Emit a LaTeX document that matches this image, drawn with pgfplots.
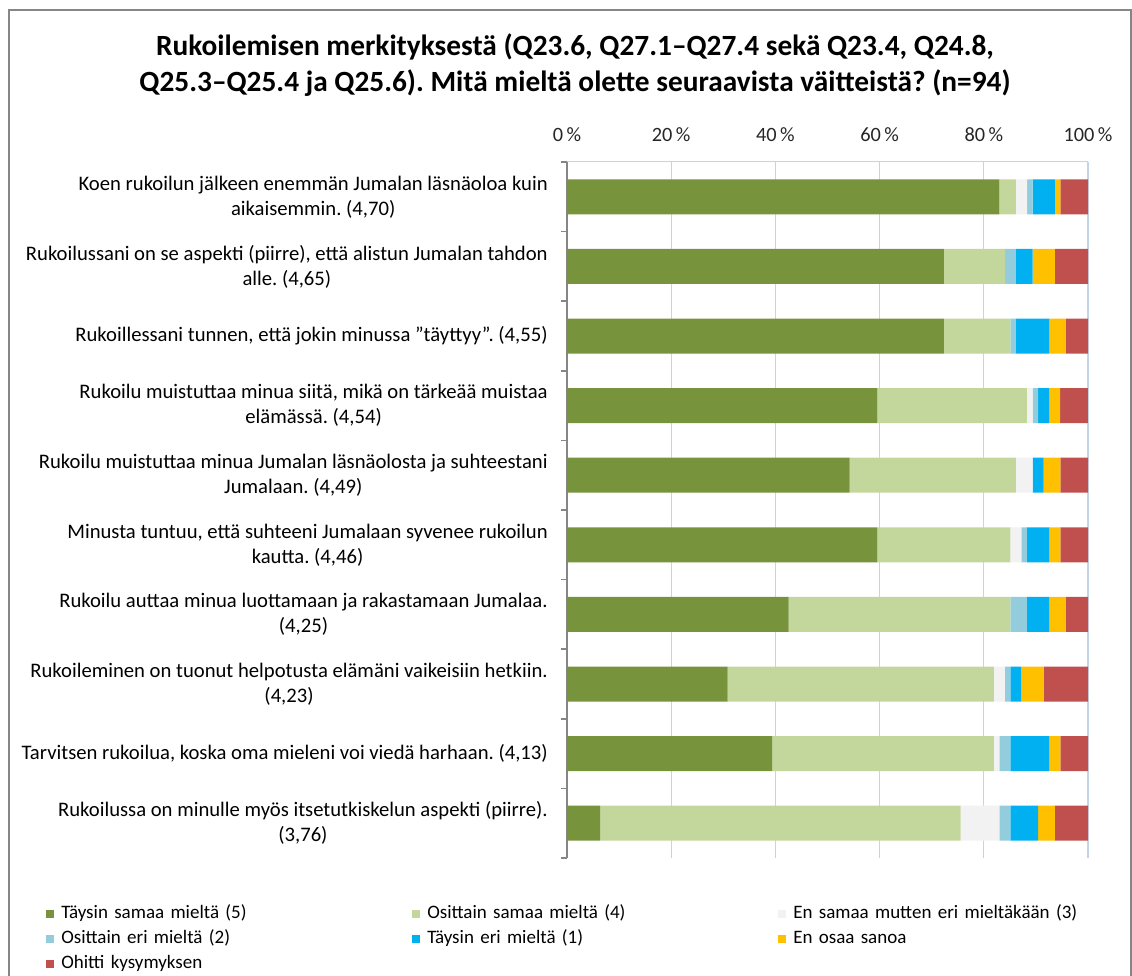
\documentclass[border=0pt]{standalone}
\usepackage{fontspec}
\setmainfont{Carlito}
\usepackage{pgfplots}
\pgfplotsset{compat=1.18}
\frenchspacing

\definecolor{c5}{HTML}{77933C}
\definecolor{c4}{HTML}{C3D69B}
\definecolor{c3}{HTML}{F2F2F2}
\definecolor{c2}{HTML}{93CDDD}
\definecolor{c1}{HTML}{00B0F0}
\definecolor{ceos}{HTML}{FFC000}
\definecolor{cskip}{HTML}{C0504D}
\definecolor{gridcol}{HTML}{C4D5EA}
\definecolor{framecol}{HTML}{868686}

\newcommand{\lblfont}{\fontsize{15.5}{18.75}\selectfont}
\newcommand{\legfont}{\fontsize{14.25}{18.75}\selectfont}

\begin{document}
\begin{tikzpicture}[x=0.75pt,y=0.75pt]
\useasboundingbox (0,0) rectangle (1132,975);
\draw[framecol, line width=1.5pt] (9,-10) -- (9,965) -- (1131,965) -- (1131,-10);
\node[font=\fontsize{22}{27}\selectfont\bfseries, align=center] at (575,910)
  {Rukoilemisen merkityksestä (Q23.6, Q27.1–Q27.4 sekä Q23.4, Q24.8,\\
   Q25.3–Q25.4 ja Q25.6). Mitä mieltä olette seuraavista väitteistä? (n=94)};
\begin{axis}[
    at={(425.25pt,87.75pt)}, anchor=south west,
    scale only axis,
    width=390.75pt, height=522pt,
    xbar stacked,
    bar width=26.25pt,
    xmin=0, xmax=100,
    ymin=-0.5, ymax=9.5,
    y dir=reverse,
    axis x line*=top,
    axis y line*=left,
    x axis line style={draw=gridcol, line width=0.75pt, -},
    y axis line style={draw=framecol, line width=1.5pt, -},
    xtick={0,20,...,100},
    xticklabels={0\,\%,20\,\%,40\,\%,60\,\%,80\,\%,100\,\%},
    xtick style={draw=none},
    xticklabel style={font=\fontsize{15.25}{18}\selectfont, text=black!85, inner sep=0pt, yshift=15pt},
    xmajorgrids=true,
    grid style={gridcol, line width=1pt},
    ytick={0,...,9},
    minor ytick={-0.5,0.5,...,9.5},
    tick align=outside,
    major tick length=0pt,
    minor tick length=4.5pt,
    ytick style={draw=framecol, line width=1.2pt},
    yticklabel style={font=\lblfont, align=center, inner sep=0pt, xshift=-14.25pt},
    yticklabels={
      {Koen rukoilun jälkeen enemmän Jumalan läsnäoloa kuin\\aikaisemmin. (4,70)},
      {Rukoilussani on se aspekti (piirre), että alistun Jumalan tahdon\\alle. (4,65)},
      {Rukoillessani tunnen, että jokin minussa ”täyttyy”. (4,55)},
      {Rukoilu muistuttaa minua siitä, mikä on tärkeää muistaa\\elämässä. (4,54)},
      {Rukoilu muistuttaa minua Jumalan läsnäolosta ja suhteestani\\Jumalaan. (4,49)},
      {Minusta tuntuu, että suhteeni Jumalaan syvenee rukoilun\\kautta. (4,46)},
      {Rukoilu auttaa minua luottamaan ja rakastamaan Jumalaa.\\(4,25)},
      {Rukoileminen on tuonut helpotusta elämäni vaikeisiin hetkiin.\\(4,23)},
      {Tarvitsen rukoilua, koska oma mieleni voi viedä harhaan. (4,13)},
      {Rukoilussa on minulle myös itsetutkiskelun aspekti (piirre).\\(3,76)}
    },
    legend columns=3,
    legend cell align=left,
    legend image code/.code={\fill[#1] (0pt,-3pt) rectangle (6pt,3pt);},
    legend style={
      at={(axis description cs:-1.0,-0.067)}, anchor=north west,
      draw=none, fill=none, inner sep=0pt,
      font=\legfont,
      row sep=5.75pt,
      /tikz/every odd column/.append style={column sep=5.25pt},
      /tikz/every even column/.append style={column sep=0pt},
      nodes={inner xsep=0pt, inner ysep=0pt, text width=263.25pt,
             text height=10pt, text depth=3pt},
    },
]
\addplot[fill=c5, draw=none] coordinates {
  (82.98,0) (72.34,1) (72.34,2) (59.57,3) (54.26,4) (59.57,5) (42.55,6) (30.85,7) (39.36,8) (6.38,9)};
\addplot[fill=c4, draw=none] coordinates {
  (3.19,0) (11.70,1) (12.77,2) (28.72,3) (31.91,4) (25.53,5) (42.55,6) (51.06,7) (42.55,8) (69.15,9)};
\addplot[fill=c3, draw=none] coordinates {
  (2.13,0) (0,1) (0,2) (1.06,3) (3.19,4) (2.13,5) (0,6) (2.13,7) (1.06,8) (7.45,9)};
\addplot[fill=c2, draw=none] coordinates {
  (1.06,0) (2.13,1) (1.06,2) (1.06,3) (0,4) (1.06,5) (3.19,6) (1.06,7) (2.13,8) (2.13,9)};
\addplot[fill=c1, draw=none] coordinates {
  (4.26,0) (3.19,1) (6.38,2) (2.13,3) (2.13,4) (4.26,5) (4.26,6) (2.13,7) (7.45,8) (5.32,9)};
\addplot[fill=ceos, draw=none] coordinates {
  (1.06,0) (4.26,1) (3.19,2) (2.13,3) (3.19,4) (2.13,5) (3.19,6) (4.26,7) (2.13,8) (3.19,9)};
\addplot[fill=cskip, draw=none] coordinates {
  (5.32,0) (6.38,1) (4.26,2) (5.32,3) (5.32,4) (5.32,5) (4.26,6) (8.51,7) (5.32,8) (6.38,9)};
\legend{Täysin samaa mieltä (5), Osittain samaa mieltä (4), En samaa mutten eri mieltäkään (3),
        Osittain eri mieltä (2), Täysin eri mieltä (1), En osaa sanoa, Ohitti kysymyksen}
\end{axis}
\end{tikzpicture}
\end{document}
